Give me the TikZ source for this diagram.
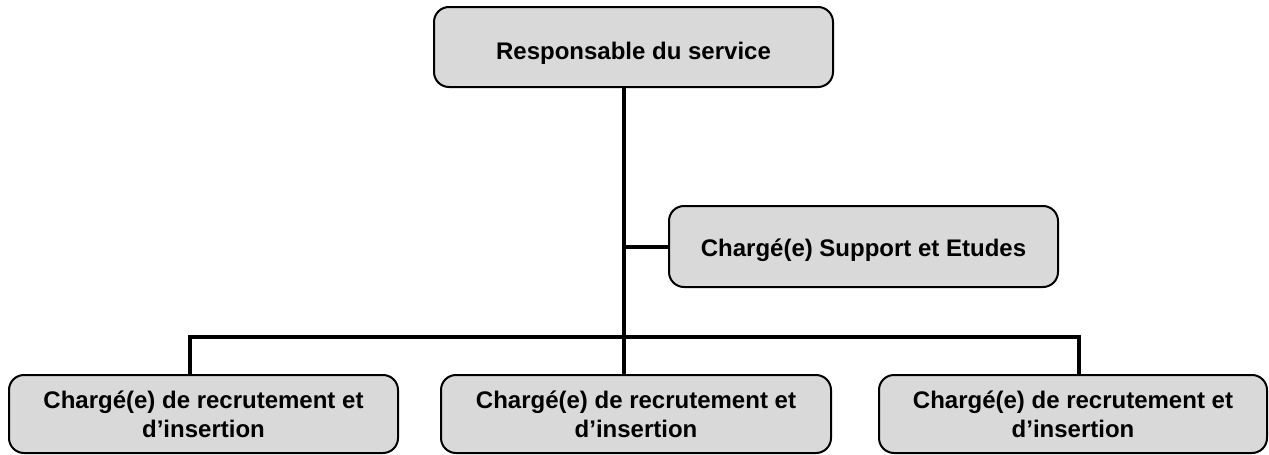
\documentclass[tikz,border=0pt]{standalone}
\usepackage{fontspec}
\setmainfont{Liberation Sans}
\definecolor{boxgray}{RGB}{217,217,217}
\begin{document}
\begin{tikzpicture}[x=1pt,y=-1pt,
  orgbox/.style={draw=black, line width=2pt, fill=boxgray, rounded corners=15pt,
    inner sep=0pt, outer sep=0pt, font=\fontsize{24}{29}\selectfont\bfseries, align=center},
  link/.style={line width=4pt, draw=black}]
\useasboundingbox (0,0) rectangle (1269,455);
\node[orgbox, minimum width=399pt, minimum height=80pt, text height=24.5pt, text depth=0pt] (top) at (633.5,47) {Responsable du service};
\node[orgbox, minimum width=389pt, minimum height=81pt, text height=20pt, text depth=0pt] (mid) at (863.5,246.5) {Chargé(e) Support et Etudes};
\node[orgbox, minimum width=389pt, minimum height=78pt] (b1) at (203.5,414) {Chargé(e) de recrutement et\\d’insertion};
\node[orgbox, minimum width=390pt, minimum height=78pt] (b2) at (636,414) {Chargé(e) de recrutement et\\d’insertion};
\node[orgbox, minimum width=388pt, minimum height=78pt] (b3) at (1073,414) {Chargé(e) de recrutement et\\d’insertion};
\coordinate (bus) at (624,337);
\coordinate (busL) at (190,337);
\coordinate (busR) at (1079,337);
\draw[link] (top.south -| bus) -- (b2.north -| bus);
\draw[link] (mid.west) -- (mid.west -| bus);
\draw[link] (b1.north -| busL) -- (busL) -- (busR) -- (b3.north -| busR);
\end{tikzpicture}
\end{document}
